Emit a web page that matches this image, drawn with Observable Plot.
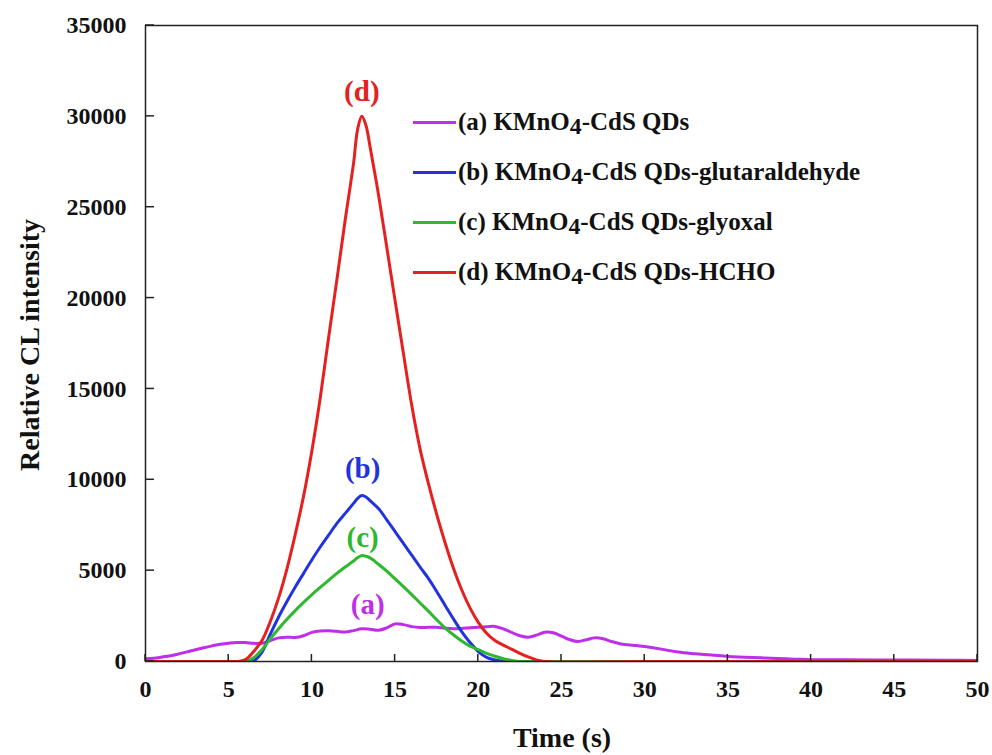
<!DOCTYPE html>
<html><head><meta charset="utf-8">
<script src="https://cdn.jsdelivr.net/npm/d3@7"></script>
<script src="https://cdn.jsdelivr.net/npm/@observablehq/plot@0.6"></script>
<style>
body{margin:0;background:#fff;}
#wrap{position:relative;width:992px;height:755px;font-family:"Liberation Serif","Times New Roman",serif;font-weight:bold;color:#111;}
.row{position:absolute;left:413px;height:30px;display:flex;align-items:center;font-size:25px;white-space:nowrap;}
.row .sw{width:43px;height:3px;margin-right:2px;}
.sub{font-size:0.95em;position:relative;top:0.18em;}
.title{position:absolute;font-size:28px;white-space:nowrap;}
</style></head><body><div id="wrap"></div>
<script>
// Series (a): KMnO4-CdS QDs
const timeA = [0,0.5,1,1.5,2,2.5,3,3.5,4,4.5,5,5.5,6,6.5,7,7.5,8,8.5,9,9.5,10,10.5,11,11.5,12,12.5,13,13.5,14,14.5,15,15.5,16,16.5,17,17.5,18,18.5,19,19.5,20,20.5,21,21.5,22,22.5,23,23.5,24,24.5,25,25.5,26,26.5,27,27.5,28,28.5,29,29.5,30,31,32,33,34,35,36,37,38,39,40,42,45,48,50];
const valuesA = [150,180,250,320,420,530,650,760,860,950,1010,1050,1040,1000,1000,1150,1300,1340,1320,1420,1600,1680,1690,1660,1620,1700,1800,1770,1720,1850,2070,2030,1920,1870,1880,1880,1830,1800,1820,1860,1880,1910,1930,1800,1600,1420,1340,1450,1610,1580,1400,1200,1100,1200,1300,1250,1100,980,920,880,820,680,520,430,360,280,240,200,160,130,100,90,80,70,60];
// Shared time grid for (b), (c), (d)
const timeMain = [0,5,5.5,6,6.5,7,7.5,8,8.5,9,9.5,10,10.5,11,11.5,12,12.5,12.75,13,13.25,13.5,14,14.5,15,15.5,16,16.5,17,17.5,18,18.5,19,19.5,20,20.5,21,21.5,22,22.5,23,23.5,24,30,40,50];
const valuesB = [0,0,0,0,30,520,1500,2450,3300,4100,4850,5600,6300,6950,7600,8150,8700,8980,9130,9050,8850,8420,7800,7150,6500,5850,5200,4570,3850,3100,2350,1650,1050,550,230,80,10,0,0,0,0,0,0,0,0];
const valuesC = [0,0,0,0,200,650,1250,1800,2320,2800,3250,3680,4080,4470,4850,5200,5530,5720,5830,5790,5700,5350,4970,4550,4120,3680,3220,2770,2300,1850,1470,1130,850,650,450,290,150,60,0,0,0,0,0,0,0];
const valuesD = [0,0,0,100,550,1150,2200,3500,5100,7000,9100,11600,14500,17800,21000,24300,27400,29300,30000,29500,28300,25700,22800,19850,16950,14100,11700,9800,8100,6550,5150,3950,2950,2150,1550,1150,900,680,450,250,90,0,0,0,0];

const seriesNames = ["(a) KMnO4-CdS QDs","(b) KMnO4-CdS QDs-glutaraldehyde","(c) KMnO4-CdS QDs-glyoxal","(d) KMnO4-CdS QDs-HCHO"];
const seriesColors = ["#bf2ee8","#2233dd","#2eb82e","#e52020"];
const labelText = ["(a)","(b)","(c)","(d)"];
const labelX = [13.35,13.05,13.05,13.0];
const labelY = [3140,10620,6820,31370];
const xTicks = [0,5,10,15,20,25,30,35,40,45,50];
const yTicks = [0,5000,10000,15000,20000,25000,30000,35000];

const mk = (ts, vs) => ts.map((t,i) => ({t, v: vs[i]}));
const dataSets = [mk(timeA,valuesA), mk(timeMain,valuesB), mk(timeMain,valuesC), mk(timeMain,valuesD)];
const labels = labelText.map((s,i) => ({s, x: labelX[i], y: labelY[i], c: seriesColors[i]}));

const chart = Plot.plot({
  width: 992, height: 755,
  marginLeft: 145, marginRight: 15, marginTop: 25, marginBottom: 94,
  style: {fontFamily: '"Liberation Serif","Times New Roman",serif', fontWeight: "bold", fontSize: "24px", color: "#111", background: "#fff"},
  x: {domain: [0,50]},
  y: {domain: [0,35000]},
  marks: [
    ...dataSets.map((d,i) => Plot.line(d, {x:"t", y:"v", stroke: seriesColors[i], strokeWidth: 3, curve: "catmull-rom", clip: true})),
    Plot.text(labels, {x:"x", y:"y", text:"s", fill:"c", fontSize: 29, fontWeight: "bold", textAnchor: "middle", lineAnchor: "middle"}),
    Plot.frame({stroke: "#222", strokeWidth: 1.5}),
    Plot.axisY({ticks: yTicks, tickSize: 0, tickPadding: 19, tickFormat: d3.format("d"), label: null}),
    Plot.axisX({ticks: xTicks, tickSize: 0, tickPadding: 18, label: null})
  ]
});
const wrap = document.getElementById("wrap");
wrap.appendChild(chart);

// inward tick marks placed with the chart's own scales
const sx = chart.scale("x"), sy = chart.scale("y");
const svg = d3.select(chart.tagName.toLowerCase() === "svg" ? chart : chart.querySelector("svg"));
const tg = svg.append("g").attr("stroke", "#222").attr("stroke-width", 1.5);
const x0 = sx.apply(0), y0 = sy.apply(0);
tg.selectAll("line.yt").data(yTicks).join("line").attr("class","yt")
  .attr("x1", x0).attr("x2", x0 + 9).attr("y1", d => sy.apply(d)).attr("y2", d => sy.apply(d));
tg.selectAll("line.xt").data(xTicks).join("line").attr("class","xt")
  .attr("x1", d => sx.apply(d)).attr("x2", d => sx.apply(d)).attr("y1", y0).attr("y2", y0 - 7);

// legend
const rowsY = [122,172,222,272];
seriesNames.forEach((name,i) => {
  const row = document.createElement("div");
  row.className = "row";
  row.style.top = (rowsY[i]-15) + "px";
  const sw = document.createElement("div");
  sw.className = "sw"; sw.style.background = seriesColors[i];
  row.appendChild(sw);
  const txt = document.createElement("span");
  const parts = name.split("KMnO4");
  txt.append(parts[0] + "KMnO");
  const sub = document.createElement("span"); sub.className = "sub"; sub.textContent = "4";
  txt.appendChild(sub);
  txt.append(parts[1]);
  row.appendChild(txt);
  wrap.appendChild(row);
});
// axis titles
const xt = document.createElement("div");
xt.className = "title"; xt.textContent = "Time (s)";
xt.style.left = "562px"; xt.style.top = "738px"; xt.style.transform = "translate(-50%,-50%)";
wrap.appendChild(xt);
const yt = document.createElement("div");
yt.className = "title"; yt.textContent = "Relative CL intensity";
yt.style.left = "30px"; yt.style.top = "345px"; yt.style.transform = "translate(-50%,-50%) rotate(-90deg)";
wrap.appendChild(yt);
</script></body></html>
